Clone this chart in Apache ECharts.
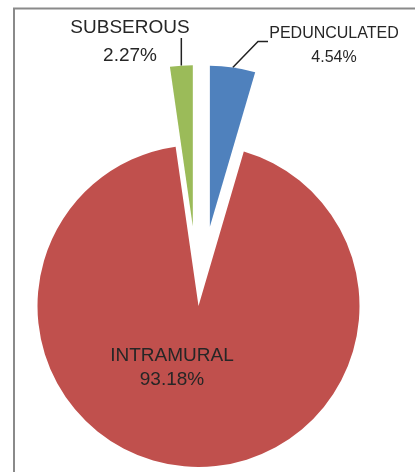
<!DOCTYPE html>
<html>
<head>
<meta charset="utf-8">
<script src="https://cdn.jsdelivr.net/npm/echarts@6/dist/echarts.min.js"></script>
<style>
  html, body { margin: 0; padding: 0; background: #fff; }
  #chart { width: 415px; height: 472px; }
</style>
</head>
<body>
<div id="chart"></div>
<script>
const categories = ["PEDUNCULATED", "INTRAMURAL", "SUBSEROUS"];
const percents = [4.54, 93.18, 2.27];
const exploded = [true, false, true];
const sliceColors = ["#4f81bd", "#c0504d", "#9bbb59"];

const center = [198.5, 306];
const radius = 161;
const offset = 80;

const total = percents.reduce((a, b) => a + b, 0);
const labelText = (i) => categories[i] + "\n" + percents[i].toFixed(2) + "%";

// point on the outer arc of a slice (at its mid angle), counting the explode offset
function arcMid(i) {
  let before = 0;
  for (let k = 0; k < i; k++) before += percents[k];
  const mid = ((before + percents[i] / 2) / total) * Math.PI * 2;
  const r = radius + (exploded[i] ? offset : 0);
  return [center[0] + r * Math.sin(mid), center[1] - r * Math.cos(mid)];
}

const pedStart = arcMid(0);
const subStart = arcMid(2);
const textFont = "Liberation Sans";

const chart = echarts.init(document.getElementById("chart"));

chart.setOption({
  animation: false,
  graphic: [
    {
      type: "polyline",
      silent: true,
      shape: { points: [[14, 472], [14, 8.5], [415, 8.5]] },
      style: { stroke: "#8a8a8a", lineWidth: 2, fill: null },
    },
    // leader lines + outside labels for the two exploded slices
    {
      type: "polyline",
      silent: true,
      shape: { points: [pedStart, [258, 41.5], [268, 41.5]] },
      style: { stroke: "#222", lineWidth: 1.5, fill: null },
    },
    {
      type: "polyline",
      silent: true,
      shape: { points: [subStart, [subStart[0], 38]] },
      style: { stroke: "#222", lineWidth: 1.5, fill: null },
    },
    {
      type: "text",
      silent: true,
      x: 334,
      y: 22,
      style: {
        text: labelText(0),
        fontFamily: textFont,
        fontSize: 16,
        lineHeight: 24,
        fill: "#262626",
        align: "center",
        verticalAlign: "top",
      },
    },
    {
      type: "text",
      silent: true,
      x: 130,
      y: 14,
      style: {
        text: labelText(2),
        fontFamily: textFont,
        fontSize: 19,
        lineHeight: 28,
        fill: "#262626",
        align: "center",
        verticalAlign: "top",
      },
    },
  ],
  series: [
    {
      type: "pie",
      center: center,
      radius: radius,
      startAngle: 90,
      clockwise: true,
      selectedMode: "multiple",
      selectedOffset: offset,
      silent: true,
      data: categories.map((name, i) => ({
        name,
        value: percents[i],
        selected: exploded[i],
        itemStyle: { color: sliceColors[i] },
        label: { show: !exploded[i] },
      })),
      label: {
        position: "inside",
        fontFamily: textFont,
        fontSize: 19,
        lineHeight: 24,
        color: "#262626",
        formatter: (p) => labelText(p.dataIndex),
      },
      labelLine: { show: false },
      labelLayout: { x: 172, y: 344, align: "center", verticalAlign: "top" },
    },
  ],
});
</script>
</body>
</html>
